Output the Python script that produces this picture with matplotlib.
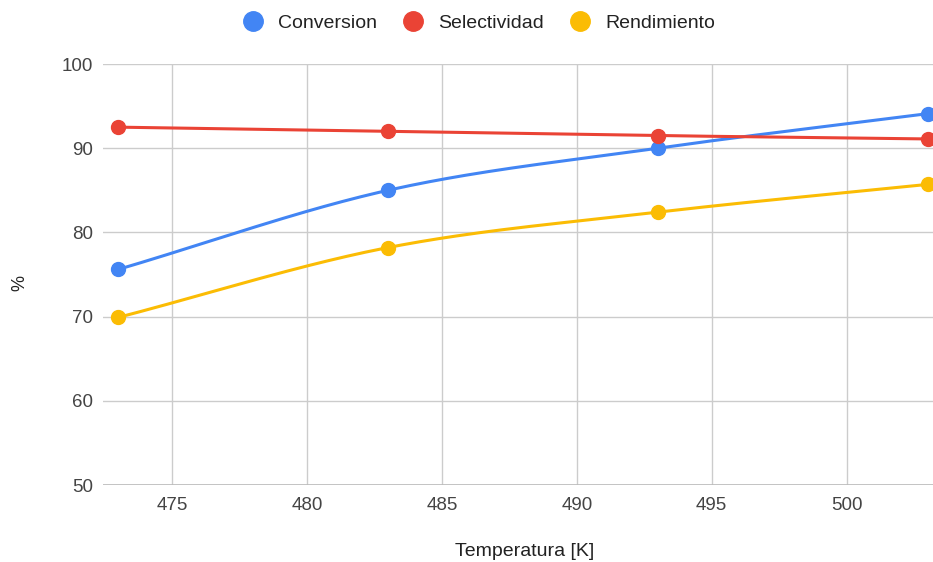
import numpy as np
import matplotlib
matplotlib.use("Agg")
import matplotlib.pyplot as plt
from matplotlib.lines import Line2D

temperatura = [473, 483, 493, 503]
conversion = [75.6, 85.0, 90.0, 94.1]
selectividad = [92.5, 92.0, 91.5, 91.1]
rendimiento = [69.9, 78.2, 82.4, 85.7]

series_names = ["Conversion", "Selectividad", "Rendimiento"]
colors = ["#4285F4", "#EA4335", "#FBBC04"]

x_ticks = [475, 480, 485, 490, 495, 500]
y_ticks = [50, 60, 70, 80, 90, 100]

plt.rcParams["font.family"] = ["Liberation Sans", "DejaVu Sans"]


def smooth(xs, ys, n=60):
    """Cubic Hermite curve through the points (Catmull-Rom style tangents)."""
    xs = np.asarray(xs, float)
    ys = np.asarray(ys, float)
    m = np.zeros_like(ys)
    m[0] = (ys[1] - ys[0]) / (xs[1] - xs[0])
    m[-1] = (ys[-1] - ys[-2]) / (xs[-1] - xs[-2])
    for i in range(1, len(xs) - 1):
        m[i] = (ys[i + 1] - ys[i - 1]) / (xs[i + 1] - xs[i - 1])
    out_x, out_y = [], []
    for i in range(len(xs) - 1):
        h = xs[i + 1] - xs[i]
        t = np.linspace(0, 1, n)
        h00 = 2 * t**3 - 3 * t**2 + 1
        h10 = t**3 - 2 * t**2 + t
        h01 = -2 * t**3 + 3 * t**2
        h11 = t**3 - t**2
        out_x.append(xs[i] + t * h)
        out_y.append(h00 * ys[i] + h10 * h * m[i] + h01 * ys[i + 1] + h11 * h * m[i + 1])
    return np.concatenate(out_x), np.concatenate(out_y)


fig = plt.figure(figsize=(9.33, 5.62), dpi=100)
ax = fig.add_axes([103 / 933, 77 / 562, 830 / 933, 421 / 562])

for ys, c in zip([conversion, selectividad, rendimiento], colors):
    sx, sy = smooth(temperatura, ys)
    ax.plot(sx, sy, color=c, lw=2.2, zorder=3, clip_on=False)
    ax.plot(temperatura, ys, "o", color=c, ms=10, zorder=4, clip_on=False)

ax.set_xlim(472.44, 503.2)
ax.set_ylim(50, 100)
ax.set_xticks(x_ticks)
ax.set_yticks(y_ticks)
ax.grid(True, color="#cccccc", lw=1)
ax.set_axisbelow(True)
for s in ax.spines.values():
    s.set_visible(False)
ax.axhline(50, color="#bbbbbb", lw=1.2, zorder=1)
ax.tick_params(length=0, labelsize=13.5, colors="#444444")
ax.tick_params(axis="y", pad=7)
ax.tick_params(axis="x", pad=9)

fig.text(525 / 933, 1 - 551 / 562, "Temperatura [K]", fontsize=14, color="#222222",
         ha="center", va="center")
fig.text(20 / 933, 1 - 283 / 562, "%", fontsize=13, color="#222222",
         ha="center", va="center", rotation=90)

handles = [Line2D([], [], marker="o", ls="", color=c, ms=14) for c in colors]
fig.legend(handles, series_names, loc="center", bbox_to_anchor=(474 / 933, 1 - 23 / 562),
           ncol=3, frameon=False, fontsize=14, handletextpad=0.3, columnspacing=0.85,
           labelcolor="#222222")

fig.savefig("out.png", dpi=100)
